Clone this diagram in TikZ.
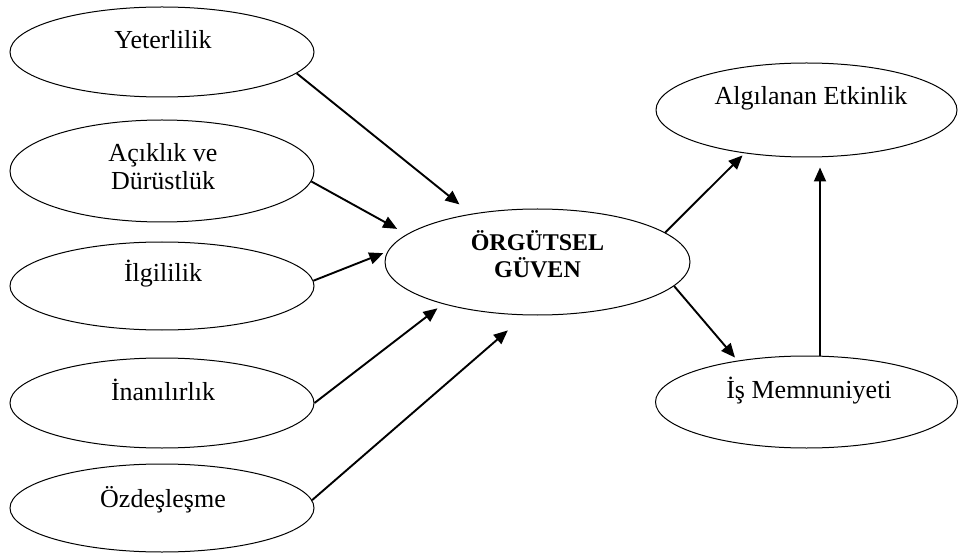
\documentclass[tikz,border=0pt]{standalone}
\usepackage{fontspec}
\setmainfont{Liberation Serif}
\usetikzlibrary{shapes.geometric,arrows.meta}
\begin{document}
\begin{tikzpicture}[x=1pt,y=-1pt,
  oval/.style={ellipse,draw,line width=1pt,inner sep=0pt},
  lbl/.style={anchor=base,inner sep=0pt,align=center,
    font=\fontsize{26}{28}\selectfont},
  boldlbl/.style={anchor=base,inner sep=0pt,align=center,
    font=\fontsize{24}{28}\selectfont\bfseries},
  arr/.style={line width=1.9pt,-{Triangle[length=14pt,width=12pt]}}]
\useasboundingbox (0,0) rectangle (958,553);

% antecedent constructs (left column)
\node[oval,minimum width=304pt,minimum height=90pt]  (yet) at (162,52)  {};
\node[oval,minimum width=304pt,minimum height=102pt] (acik) at (162,171) {};
\node[oval,minimum width=304pt,minimum height=88pt]  (ilg) at (162,286) {};
\node[oval,minimum width=304pt,minimum height=90pt]  (ina) at (162,403) {};
\node[oval,minimum width=304pt,minimum height=88pt]  (ozd) at (162,508) {};

% central construct
\node[oval,minimum width=305pt,minimum height=106pt] (org) at (537.5,262) {};

% outcomes (right column)
\node[oval,minimum width=301pt,minimum height=94pt]  (alg) at (806.5,110) {};
\node[oval,minimum width=302pt,minimum height=92pt]  (is)  at (806.5,402) {};

% labels (multi-line labels are anchored on their last baseline)
\node[lbl] (yet-l)  at (163,49)  {Yeterlilik};
\node[lbl] (acik-l) at (163,190) {Açıklık ve\\Dürüstlük};
\node[lbl] (ilg-l)  at (163,282) {İlgililik};
\node[lbl] (ina-l)  at (163,400) {İnanılırlık};
\node[lbl] (ozd-l)  at (163,507) {Özdeşleşme};
\node[boldlbl] (org-l) at (537.5,278) {ÖRGÜTSEL\\GÜVEN};
\node[lbl] (alg-l)  at (811,105) {Algılanan Etkinlik};
\node[lbl] (is-l)   at (809,398) {İş Memnuniyeti};

% paths into the central construct
\draw[arr,shorten >=15pt] (yet.-9)   -- (org.144.8);
\draw[arr,shorten >=11pt] (acik.-4)  -- (org.168.7);
\draw[arr,shorten >=4.5pt] (ilg.2)   -- (org.176.4);
\draw[arr,shorten >=7pt]  (ina.0)    -- (org.204.1);
\draw[arr,shorten >=23pt] (ozd.3.5)  -- (org.257.6);

% paths to the outcomes
\draw[arr,shorten >=3pt] (org.13.2)  -- (alg.215.2);
\draw[arr,shorten >=4pt] (org.-10.9) -- (is.149);
\draw[arr,shorten >=10pt] ([xshift=13.5pt]is.north) -- ([xshift=13.5pt]alg.south);
\end{tikzpicture}
\end{document}
